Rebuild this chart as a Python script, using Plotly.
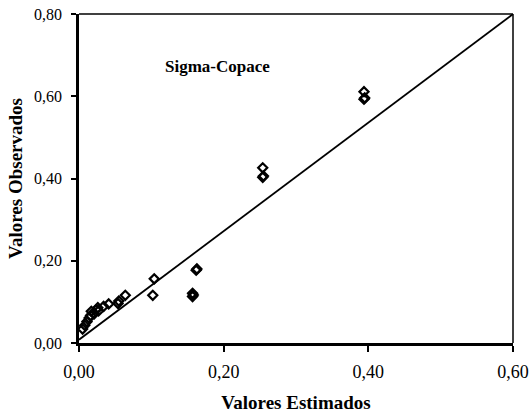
import plotly.graph_objects as go

# Data
estimados = [0.005, 0.008, 0.011, 0.014, 0.016, 0.017, 0.021, 0.024, 0.026, 0.027,
             0.034, 0.041, 0.054, 0.055, 0.064,
             0.104, 0.102, 0.157, 0.157, 0.158, 0.162, 0.163,
             0.254, 0.254, 0.255, 0.394, 0.394, 0.395]
observados = [0.034, 0.043, 0.052, 0.061, 0.067, 0.077, 0.071, 0.081, 0.086, 0.078,
              0.089, 0.095, 0.096, 0.102, 0.116,
              0.156, 0.116, 0.121, 0.113, 0.117, 0.177, 0.180,
              0.426, 0.403, 0.406, 0.611, 0.593, 0.596]

line_x = [0.0, 0.6]
line_y = [0.008, 0.8]

x_ticks = [0.0, 0.2, 0.4, 0.6]
y_ticks = [0.0, 0.2, 0.4, 0.6, 0.8]

serif = "Liberation Serif, Times New Roman, serif"

fig = go.Figure()
fig.add_trace(go.Scatter(x=line_x, y=line_y, mode="lines",
                         line=dict(color="black", width=1.8),
                         showlegend=False, hoverinfo="skip"))
fig.add_trace(go.Scatter(x=estimados, y=observados, mode="markers",
                         marker=dict(symbol="diamond-open", size=7, color="black",
                                     line=dict(width=2.2, color="black")),
                         showlegend=False))

fig.add_annotation(x=0.1915, y=0.673, text="Sigma-Copace", showarrow=False,
                   font=dict(family=serif, size=17, color="black", weight="bold"))

fig.update_layout(
    width=530, height=413,
    margin=dict(l=79, r=17, t=14, b=70),
    paper_bgcolor="white", plot_bgcolor="white",
    separators=",.",
    font=dict(family=serif, color="black"),
    shapes=[
        dict(type="line", xref="paper", yref="paper", x0=0, x1=1, y0=1, y1=1,
             line=dict(color="black", width=1.5)),
        dict(type="line", xref="paper", yref="paper", x0=1, x1=1, y0=0, y1=1,
             line=dict(color="black", width=1.5)),
    ],
)
fig.update_xaxes(range=[0, 0.6], tickvals=x_ticks, tickformat=".2f",
                 automargin=False,
                 showgrid=False, zeroline=False, showline=True, linecolor="black",
                 linewidth=2.5, ticks="outside", ticklen=6, tickwidth=1.5,
                 tickcolor="black", ticklabelstandoff=5,
                 tickfont=dict(family=serif, size=18, color="black"),
                 title=dict(text="Valores Estimados", standoff=16,
                            font=dict(family=serif, size=19, color="black", weight="bold")))
fig.update_yaxes(range=[0, 0.8], tickvals=y_ticks, tickformat=".2f",
                 automargin=False,
                 showgrid=False, zeroline=False, showline=True, linecolor="black",
                 linewidth=2.5, ticks="outside", ticklen=5, tickwidth=1.5,
                 tickcolor="black", ticklabelstandoff=6,
                 tickfont=dict(family=serif, size=16, color="black"),
                 title=dict(text="Valores Observados", standoff=7,
                            font=dict(family=serif, size=19, color="black", weight="bold")))

# remove the browser's default body margin so the figure sits at the page origin
fig.write_html("out.html",
               config={"displayModeBar": False},
               post_script="document.body.style.margin='0';document.body.style.overflow='hidden';")
